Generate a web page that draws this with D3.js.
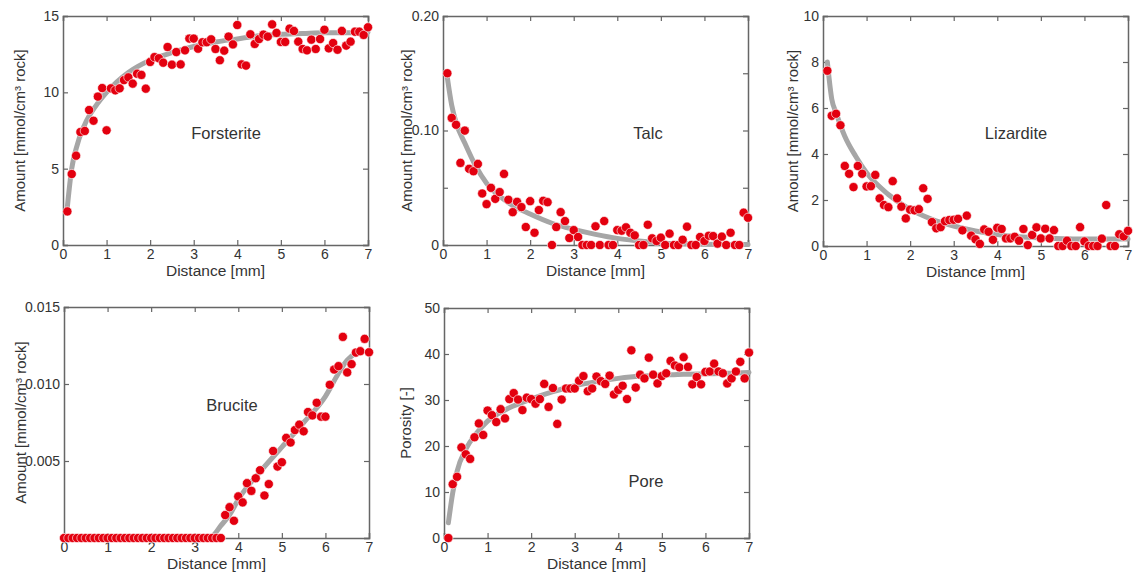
<!DOCTYPE html>
<html>
<head>
<meta charset="utf-8">
<script src="https://cdn.jsdelivr.net/npm/d3@7"></script>
<style>
    body { margin: 0; background: #fff; }
    text { font-family: "Liberation Sans", Arial, Helvetica, sans-serif; fill: #333; }
</style>
</head>
<body>
<svg id="chart" width="1137" height="580"></svg>
<script>
// sample positions along the profile (mm)
const distance = [0.1, 0.2, 0.3, 0.4, 0.5, 0.6, 0.7, 0.8, 0.9, 1.0,
    1.1, 1.2, 1.3, 1.4, 1.5, 1.6, 1.7, 1.8, 1.9, 2.0,
    2.1, 2.2, 2.3, 2.4, 2.5, 2.6, 2.7, 2.8, 2.9, 3.0,
    3.1, 3.2, 3.3, 3.4, 3.5, 3.6, 3.7, 3.8, 3.9, 4.0,
    4.1, 4.2, 4.3, 4.4, 4.5, 4.6, 4.7, 4.8, 4.9, 5.0,
    5.1, 5.2, 5.3, 5.4, 5.5, 5.6, 5.7, 5.8, 5.9, 6.0,
    6.1, 6.2, 6.3, 6.4, 6.5, 6.6, 6.7, 6.8, 6.9, 7.0];

const forsterite = [2.2, 4.65, 5.85, 7.4, 7.47, 8.84, 8.14, 9.72, 10.28, 7.51,
    10.26, 10.13, 10.26, 10.8, 10.98, 10.57, 11.22, 11.14, 10.24, 11.99,
    12.31, 12.23, 11.94, 12.97, 11.81, 12.64, 11.83, 12.75, 13.52, 13.52,
    12.86, 13.28, 13.28, 13.47, 12.84, 12.1, 12.73, 13.65, 13.14, 14.41,
    11.83, 11.75, 13.8, 13.17, 13.49, 13.78, 13.65, 14.45, 13.89, 13.3,
    13.3, 14.17, 14.02, 13.32, 12.84, 12.75, 13.45, 12.84, 13.49, 14.1,
    12.88, 13.23, 12.79, 14.02, 13.06, 13.32, 13.97, 13.97, 13.76, 14.26];

const talc = [0.150, 0.111, 0.105, 0.0717, 0.0999, 0.0665, 0.0644, 0.0708, 0.045, 0.0357,
    0.0499, 0.0403, 0.0462, 0.0621, 0.0395, 0.0287, 0.0377, 0.0331, 0.0157, 0.0383,
    0.0107, 0.0305, 0.0386, 0.0374, 0, 0.0157, 0.0287, 0.0209, 0.0061, 0.013,
    0.007, 0, 0, 0, 0.0163, 0, 0.0209, 0, 0, 0.013,
    0.0125, 0.0154, 0.0107, 0.0084, 0, 0, 0.0177, 0.0058, 0.0035, 0.0064,
    0, 0.0099, 0, 0, 0.0046, 0.016, 0, 0, 0.007, 0.0035,
    0.0081, 0.0078, 0.0012, 0.0073, 0, 0.0107, 0, 0, 0.0282, 0.0238];

const lizardite = [7.62, 5.66, 5.75, 5.25, 3.48, 3.14, 2.56, 3.48, 3.14, 2.59,
    2.6, 3.09, 2.07, 1.78, 1.69, 2.82, 2.07, 1.71, 1.2, 1.58,
    1.55, 1.6, 2.51, 2.05, 1.04, 0.77, 0.82, 1.08, 1.13, 1.14,
    1.18, 0.68, 1.32, 0.45, 0.29, 0.09, 0.72, 0.62, 0.27, 0.79,
    0.74, 0.33, 0.33, 0.4, 0.23, 0.74, 0.04, 0.48, 0.81, 0.33,
    0.75, 0.33, 0.69, 0, 0, 0.23, 0, 0, 0.82, 0.2,
    0, 0, 0, 0.32, 1.78, 0, 0, 0.51, 0.42, 0.66];

// brucite also has a sample at 0 mm
const bruciteDistance = [0].concat(distance);
const brucite = [0, 0, 0, 0, 0, 0, 0, 0, 0, 0,
    0, 0, 0, 0, 0, 0, 0, 0, 0, 0,
    0, 0, 0, 0, 0, 0, 0, 0, 0, 0,
    0, 0, 0, 0, 0, 0, 0, 0.00149, 0.0020, 0.00112,
    0.0027, 0.00231, 0.00356, 0.00306, 0.00388, 0.0044, 0.00276, 0.0035, 0.00565, 0.00464,
    0.00492, 0.0065, 0.0062, 0.00701, 0.00736, 0.00693, 0.00818, 0.00796, 0.00878, 0.00788,
    0.00788, 0.00995, 0.01094, 0.01116, 0.01306, 0.01075, 0.01129, 0.01204, 0.01213, 0.01293,
    0.01206];

const porosity = [0, 11.7, 13.3, 19.7, 18.2, 17.2, 21.9, 24.9, 22.4, 27.7,
    26.7, 25.2, 28.0, 26.0, 30.2, 31.5, 30.1, 27.8, 30.5, 30.2,
    29.2, 30.2, 33.5, 28.5, 32.6, 24.8, 30.1, 32.5, 32.5, 32.5,
    34.2, 35.2, 31.9, 32.5, 35.1, 34.1, 33.5, 35.3, 31.2, 32.2,
    33.1, 30.2, 40.8, 32.7, 35.5, 34.7, 39.2, 35.5, 33.6, 35.2,
    35.8, 38.5, 37.5, 37.1, 39.3, 37.2, 33.4, 35.0, 33.4, 36.1,
    36.2, 37.9, 36.2, 35.8, 33.6, 34.7, 36.2, 38.3, 34.7, 40.3];

// model curves
const fitDistance = [0.1, 0.2, 0.3, 0.5, 0.75, 1.0, 1.5, 2.0, 2.5, 3.0, 3.5, 4.0, 4.5, 5.0, 5.5, 6.0, 6.5, 7.0];
const forsteriteFit = [2.5, 5.0, 6.3, 7.9, 9.1, 10.0, 11.3, 12.1, 12.6, 13.0, 13.3, 13.5, 13.7, 13.8, 13.85, 13.9, 13.9, 13.95];
const talcFit = [0.146, 0.122, 0.107, 0.089, 0.069, 0.054, 0.037, 0.027, 0.019, 0.0136, 0.0093, 0.0058, 0.0036, 0.0018, 0.001, 0.0006, 0.0005, 0.0005];
const lizarditeFit = [8.0, 6.4, 5.8, 4.77, 3.9, 3.18, 2.24, 1.59, 1.16, 0.87, 0.65, 0.5, 0.4, 0.35, 0.32, 0.3, 0.3, 0.3];
const poreFit = [3.3, 9.8, 14.5, 19.3, 22.8, 25.4, 28.3, 30.2, 31.8, 33.1, 34.0, 34.7, 35.2, 35.4, 35.6, 35.7, 35.8, 36.0];
const bruciteFitDistance = [3.3, 3.4, 3.6, 3.8, 4.0, 4.5, 5.0, 5.5, 6.0, 6.3, 6.5, 6.7, 6.8];
const bruciteFit = [0, 0.0001, 0.0008, 0.0015, 0.0025, 0.0043, 0.0059, 0.0075, 0.0092, 0.0107, 0.01155, 0.0120, 0.0121];

const xTicks = [0, 1, 2, 3, 4, 5, 6, 7];
const amountTitle = "Amount [mmol/cm\u00b3 rock]";

const panels = [
    {name: "Forsterite", xs: distance, ys: forsterite, fx: fitDistance, fy: forsteriteFit,
        yMax: 15, ticks: [0, 5, 10, 15], labels: [0, 5, 10, 15], fmt: d => d,
        yTitle: amountTitle, titleX: 25, box: [63, 368, 16, 245], lab: [226, 139]},
    {name: "Talc", xs: distance, ys: talc, fx: fitDistance, fy: talcFit,
        yMax: 0.2, ticks: [0, 0.05, 0.1, 0.15, 0.2], labels: [0, 0.1, 0.2], fmt: d => d === 0 ? "0" : d3.format(".2f")(d),
        yTitle: amountTitle, titleX: 412, box: [443, 748, 16, 245], lab: [648, 139]},
    {name: "Lizardite", xs: distance, ys: lizardite, fx: fitDistance, fy: lizarditeFit,
        yMax: 10, ticks: [0, 2, 4, 6, 8, 10], labels: [0, 2, 4, 6, 8, 10], fmt: d => d,
        yTitle: amountTitle, titleX: 798, box: [823, 1128, 16, 246], lab: [1016, 139]},
    {name: "Brucite", xs: bruciteDistance, ys: brucite, fx: [0].concat(bruciteFitDistance), fy: [0].concat(bruciteFit),
        yMax: 0.015, ticks: [0, 0.005, 0.01, 0.015], labels: [0.005, 0.01, 0.015], fmt: d3.format(".3f"),
        yTitle: amountTitle, titleX: 26, box: [64, 369, 307, 538], lab: [232, 411]},
    {name: "Pore", xs: distance, ys: porosity, fx: fitDistance, fy: poreFit,
        yMax: 50, ticks: [0, 10, 20, 30, 40, 50], labels: [0, 10, 20, 30, 40, 50], fmt: d => d,
        yTitle: "Porosity [-]", titleX: 411, box: [444, 749, 308, 538], lab: [646, 487]}
];

const svg = d3.select("#chart");

panels.forEach(p => {
    const [left, right, top, bottom] = p.box;
    const x = d3.scaleLinear().domain([0, 7]).range([left, right]);
    const y = d3.scaleLinear().domain([0, p.yMax]).range([bottom, top]);
    const g = svg.append("g").attr("class", "panel");

    // frame with inward ticks on every side
    const tickLen = 5;
    const fmtY = d => p.labels.some(v => Math.abs(v - d) < 1e-9) ? p.fmt(d) : "";

    g.append("g")
        .attr("transform", "translate(0," + bottom + ")")
        .call(d3.axisBottom(x).tickValues(xTicks).tickSize(-tickLen).tickPadding(4).tickFormat(d3.format("d")));
    g.append("g")
        .attr("transform", "translate(0," + top + ")")
        .call(d3.axisTop(x).tickValues(xTicks).tickSize(-tickLen).tickFormat(""));
    g.append("g")
        .attr("transform", "translate(" + left + ",0)")
        .call(d3.axisLeft(y).tickValues(p.ticks).tickSize(-tickLen).tickPadding(4).tickFormat(fmtY));
    g.append("g")
        .attr("transform", "translate(" + right + ",0)")
        .call(d3.axisRight(y).tickValues(p.ticks).tickSize(-tickLen).tickFormat(""));

    g.selectAll(".domain").attr("stroke", "#666").attr("stroke-width", 1.5);
    g.selectAll(".tick line").attr("stroke", "#666").attr("stroke-width", 1.2);
    g.selectAll(".tick text")
        .style("font-family", "'Liberation Sans', Arial, sans-serif")
        .style("font-size", "14px")
        .attr("fill", "#333");

    // grey model line
    const line = d3.line()
        .x((d, i) => x(p.fx[i]))
        .y(d => y(d))
        .curve(d3.curveMonotoneX);
    g.append("path")
        .datum(p.fy)
        .attr("d", line)
        .attr("fill", "none")
        .attr("stroke", "#a6a6a6")
        .attr("stroke-width", 5)
        .attr("stroke-linecap", "round");

    // measured points
    g.selectAll(".dot")
        .data(p.ys)
        .enter()
        .append("circle")
        .attr("class", "dot")
        .attr("cx", (d, i) => x(p.xs[i]))
        .attr("cy", d => y(d))
        .attr("r", 4.6)
        .attr("fill", "#e3000f")
        .attr("stroke", "#fff")
        .attr("stroke-width", 0.6);

    g.append("text")
        .text(p.name)
        .attr("x", p.lab[0])
        .attr("y", p.lab[1])
        .attr("text-anchor", "middle")
        .style("font-size", "16.5px");

    g.append("text")
        .text("Distance [mm]")
        .attr("x", (left + right) / 2)
        .attr("y", bottom + 31)
        .attr("text-anchor", "middle")
        .style("font-size", "15.5px");

    g.append("text")
        .text(p.yTitle)
        .attr("transform", "translate(" + p.titleX + "," + ((top + bottom) / 2) + ") rotate(-90)")
        .attr("text-anchor", "middle")
        .style("font-size", "15px");
});
</script>
</body>
</html>
